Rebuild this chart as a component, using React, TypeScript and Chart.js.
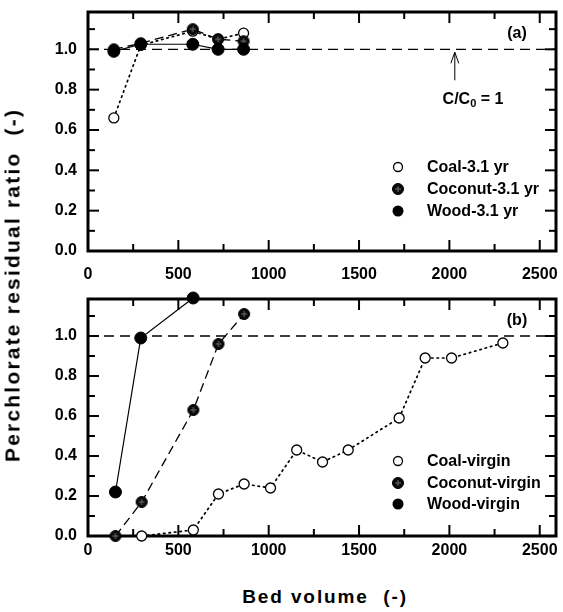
import React, { useEffect, useRef } from "react";
import { Chart, registerables } from "chart.js";

Chart.register(...registerables);

// ---------- data ----------
// Panel (a): 3.1-year-old carbons
const bedVolumeA = [143, 292, 580, 720, 861];
const coal31 = [0.66, 1.02, 1.09, 1.05, 1.08];
const coconut31 = [1.0, 1.03, 1.1, 1.05, 1.04];
const wood31 = [0.99, 1.025, 1.025, 1.0, 1.0];

// Panel (b): virgin carbons
const coalVirginX = [297, 583, 722, 864, 1010, 1155, 1298, 1440, 1722, 1866, 2012, 2296];
const coalVirginY = [0.0, 0.03, 0.21, 0.26, 0.24, 0.43, 0.37, 0.43, 0.59, 0.89, 0.89, 0.965];
const coconutVirginX = [152, 297, 583, 722, 864];
const coconutVirginY = [0.0, 0.17, 0.63, 0.96, 1.11];
const woodVirginX = [152, 292, 582];
const woodVirginY = [0.22, 0.99, 1.19];

// reference line C/C0 = 1
const refLineX = [0, 2590];
const refLineY = [1, 1];

// axes
const xMin = 0;
const xMax = 2590;
const yMin = 0;
const yMax = 1.185;
const xTickValues = [0, 500, 1000, 1500, 2000, 2500];
const xMinorTickValues = [250, 750, 1250, 1750, 2250];
const yTickValues = [0, 0.2, 0.4, 0.6, 0.8, 1.0];
const yMinorTickValues = [0.1, 0.3, 0.5, 0.7, 0.9, 1.1];

const legendA = ["Coal-3.1 yr", "Coconut-3.1 yr", "Wood-3.1 yr"];
const legendB = ["Coal-virgin", "Coconut-virgin", "Wood-virgin"];

const FONT = "'Liberation Sans', Arial, Helvetica, sans-serif";

function makeCoconutMarker(r: number): HTMLCanvasElement {
  const size = Math.ceil(r * 2 + 3);
  const c = document.createElement("canvas");
  c.width = size;
  c.height = size;
  const ctx = c.getContext("2d")!;
  const m = size / 2;
  ctx.beginPath();
  ctx.arc(m, m, r, 0, Math.PI * 2);
  ctx.fillStyle = "#0a0a0a";
  ctx.fill();
  ctx.strokeStyle = "#000";
  ctx.lineWidth = 1;
  ctx.stroke();
  ctx.strokeStyle = "#707070";
  ctx.lineWidth = 1;
  ctx.beginPath();
  ctx.moveTo(m - r * 0.55, m);
  ctx.lineTo(m + r * 0.55, m);
  ctx.moveTo(m, m - r * 0.55);
  ctx.lineTo(m, m + r * 0.55);
  ctx.stroke();
  return c;
}

function pts(xs: number[], ys: number[]) {
  return xs.map((x, i) => ({ x, y: ys[i] }));
}

type PanelSpec = {
  tag: string;
  coal: { x: number; y: number }[];
  coconut: { x: number; y: number }[];
  wood: { x: number; y: number }[];
  legend: string[];
  legendRows: number[];
  xAxisHeight: number;
  xPad: number;
  showArrow: boolean;
};

function framePlugin(spec: PanelSpec, coconutImg: HTMLCanvasElement) {
  return {
    id: "frame" + spec.tag,
    beforeDatasetsDraw(chart: any) {
      const { ctx, chartArea: a, scales } = chart;
      const xs = scales.x;
      const ys = scales.y;
      ctx.save();
      ctx.strokeStyle = "#000";
      ctx.lineWidth = 2;
      const tick = (x1: number, y1: number, x2: number, y2: number) => {
        ctx.beginPath();
        ctx.moveTo(x1, y1);
        ctx.lineTo(x2, y2);
        ctx.stroke();
      };
      const major = 11;
      const minor = 7;
      xTickValues.forEach((v) => {
        const px = xs.getPixelForValue(v);
        tick(px, a.bottom, px, a.bottom - major);
        tick(px, a.top, px, a.top + major);
      });
      xMinorTickValues.forEach((v) => {
        const px = xs.getPixelForValue(v);
        tick(px, a.bottom, px, a.bottom - minor);
        tick(px, a.top, px, a.top + minor);
      });
      yTickValues.forEach((v) => {
        const py = ys.getPixelForValue(v);
        tick(a.left, py, a.left + major, py);
        tick(a.right, py, a.right - major, py);
      });
      yMinorTickValues.forEach((v) => {
        const py = ys.getPixelForValue(v);
        tick(a.left, py, a.left + minor, py);
        tick(a.right, py, a.right - minor, py);
      });
      ctx.lineWidth = 3;
      ctx.strokeRect(a.left, a.top, a.right - a.left, a.bottom - a.top);
      ctx.restore();
    },
    afterDraw(chart: any) {
      const { ctx, chartArea: a, scales } = chart;
      const xs = scales.x;
      const ys = scales.y;
      ctx.save();
      ctx.fillStyle = "#000";
      ctx.textBaseline = "middle";
      ctx.font = `bold 16px ${FONT}`;
      // panel tag
      ctx.textAlign = "center";
      ctx.fillText(`(${spec.tag})`, 517, a.top + 22);
      // legend
      const mx = 398;
      const tx = 427;
      spec.legend.forEach((label, i) => {
        const y = spec.legendRows[i];
        if (i === 0) {
          ctx.beginPath();
          ctx.arc(mx, y, 4.5, 0, Math.PI * 2);
          ctx.fillStyle = "#fff";
          ctx.fill();
          ctx.strokeStyle = "#000";
          ctx.lineWidth = 1.3;
          ctx.stroke();
        } else if (i === 1) {
          ctx.drawImage(coconutImg, mx - coconutImg.width / 2, y - coconutImg.height / 2);
        } else {
          ctx.beginPath();
          ctx.arc(mx, y, 5.5, 0, Math.PI * 2);
          ctx.fillStyle = "#000";
          ctx.fill();
        }
        ctx.fillStyle = "#000";
        ctx.textAlign = "left";
        ctx.fillText(label, tx, y + 1);
      });
      if (spec.showArrow) {
        const ax = xs.getPixelForValue(2030);
        const tipY = ys.getPixelForValue(1) + 3;
        ctx.strokeStyle = "#000";
        ctx.lineWidth = 1;
        ctx.beginPath();
        ctx.moveTo(ax, tipY + 28);
        ctx.lineTo(ax, tipY);
        ctx.moveTo(ax - 4, tipY + 11);
        ctx.lineTo(ax, tipY);
        ctx.lineTo(ax + 4, tipY + 11);
        ctx.stroke();
        // C/C0 = 1
        const cy = tipY + 47;
        ctx.font = `bold 16px ${FONT}`;
        const p1 = "C/C";
        const p3 = " = 1";
        const w1 = ctx.measureText(p1).width;
        ctx.font = `bold 11px ${FONT}`;
        const w2 = ctx.measureText("0").width;
        ctx.font = `bold 16px ${FONT}`;
        const w3 = ctx.measureText(p3).width;
        const total = w1 + w2 + w3;
        let sx = 473 - total / 2;
        ctx.textAlign = "left";
        ctx.fillText(p1, sx, cy);
        sx += w1;
        ctx.font = `bold 11px ${FONT}`;
        ctx.fillText("0", sx, cy + 5);
        sx += w2;
        ctx.font = `bold 16px ${FONT}`;
        ctx.fillText(p3, sx, cy);
      }
      ctx.restore();
    },
  };
}

function buildConfig(spec: PanelSpec, coconutImg: HTMLCanvasElement): any {
  const tickFont = { family: FONT, size: 16, weight: "bold" as const };
  return {
    type: "line",
    data: {
      datasets: [
        {
          label: spec.legend[2],
          data: spec.wood,
          borderColor: "#000",
          borderWidth: 1.2,
          pointRadius: 6,
          pointBackgroundColor: "#000",
          pointBorderColor: "#000",
          pointBorderWidth: 1,
          tension: 0,
          clip: false,
        },
        {
          label: spec.legend[1],
          data: spec.coconut,
          borderColor: "#000",
          borderWidth: 1.3,
          borderDash: [9, 5],
          pointStyle: coconutImg,
          pointRadius: 6,
          tension: 0,
          clip: false,
        },
        {
          label: spec.legend[0],
          data: spec.coal,
          borderColor: "#000",
          borderWidth: 1.7,
          borderDash: [1.5, 4],
          borderCapStyle: "round",
          pointRadius: 5,
          pointBackgroundColor: "#fff",
          pointBorderColor: "#000",
          pointBorderWidth: 1.3,
          tension: 0,
          clip: false,
        },
        {
          label: "C/C0 = 1",
          data: pts(refLineX, refLineY),
          borderColor: "#000",
          borderWidth: 1.3,
          borderDash: [10, 6],
          pointRadius: 0,
          tension: 0,
        },
      ],
    },
    options: {
      animation: false,
      responsive: false,
      layout: { autoPadding: false, padding: { top: 12, right: 7, left: 0, bottom: 0 } },
      plugins: { legend: { display: false }, tooltip: { enabled: false } },
      scales: {
        x: {
          type: "linear",
          min: xMin,
          max: xMax,
          afterBuildTicks: (s: any) => {
            s.ticks = xTickValues.map((v) => ({ value: v }));
          },
          afterFit: (s: any) => {
            s.height = spec.xAxisHeight;
            s.paddingLeft = 0;
            s.paddingRight = 0;
            s.paddingTop = 0;
            s.paddingBottom = 0;
          },
          ticks: {
            font: tickFont,
            color: "#000",
            padding: spec.xPad,
            maxRotation: 0,
            autoSkip: false,
            includeBounds: false,
            callback: (v: number) => String(v),
          },
          grid: { display: false, drawTicks: false, tickLength: 0 },
          border: { display: false },
        },
        y: {
          type: "linear",
          min: yMin,
          max: yMax,
          afterBuildTicks: (s: any) => {
            s.ticks = yTickValues.map((v) => ({ value: v }));
          },
          afterFit: (s: any) => {
            s.width = 88;
            s.paddingLeft = 0;
            s.paddingRight = 0;
            s.paddingTop = 0;
            s.paddingBottom = 0;
          },
          ticks: {
            font: tickFont,
            color: "#000",
            padding: 11,
            includeBounds: false,
            callback: (v: number) => Number(v).toFixed(1),
          },
          grid: { display: false, drawTicks: false, tickLength: 0 },
          border: { display: false },
        },
      },
    },
    plugins: [framePlugin(spec, coconutImg)],
  };
}

function Panel({ spec, top }: { spec: PanelSpec; top: number }) {
  const ref = useRef<HTMLCanvasElement | null>(null);
  useEffect(() => {
    if (!ref.current) return;
    const img = makeCoconutMarker(5.5);
    const chart = new Chart(ref.current, buildConfig(spec, img));
    return () => chart.destroy();
  }, [spec]);
  return (
    <canvas
      ref={ref}
      width={563}
      height={290}
      style={{ position: "absolute", left: 0, top, width: 563, height: 290, display: "block" }}
    />
  );
}

const specA: PanelSpec = {
  tag: "a",
  coal: pts(bedVolumeA, coal31),
  coconut: pts(bedVolumeA, coconut31),
  wood: pts(bedVolumeA, wood31),
  legend: legendA,
  legendRows: [167, 189, 211],
  xAxisHeight: 39,
  xPad: 14,
  showArrow: true,
};

const specB: PanelSpec = {
  tag: "b",
  coal: pts(coalVirginX, coalVirginY),
  coconut: pts(coconutVirginX, coconutVirginY),
  wood: pts(woodVirginX, woodVirginY),
  legend: legendB,
  legendRows: [174, 196, 217],
  xAxisHeight: 41,
  xPad: 5,
  showArrow: false,
};

export default function App() {
  return (
    <div
      style={{
        position: "absolute",
        left: 0,
        top: 0,
        width: 563,
        height: 612,
        background: "#fff",
        overflow: "hidden",
      }}
    >
      <Panel spec={specA} top={0} />
      <Panel spec={specB} top={287} />
      <div
        style={{
          position: "absolute",
          left: 12,
          top: 285,
          transform: "translate(-50%, -50%) rotate(-90deg)",
          whiteSpace: "pre",
          fontFamily: FONT,
          fontWeight: "bold",
          fontSize: 21,
          letterSpacing: "2.2px",
          color: "#000",
          lineHeight: 1,
        }}
      >
        {"Perchlorate residual ratio  (-)"}
      </div>
      <div
        style={{
          position: "absolute",
          left: 325,
          top: 596,
          transform: "translate(-50%, -50%)",
          whiteSpace: "pre",
          fontFamily: FONT,
          fontWeight: "bold",
          fontSize: 19,
          letterSpacing: "1.9px",
          color: "#000",
          lineHeight: 1,
        }}
      >
        {"Bed volume  (-)"}
      </div>
    </div>
  );
}
